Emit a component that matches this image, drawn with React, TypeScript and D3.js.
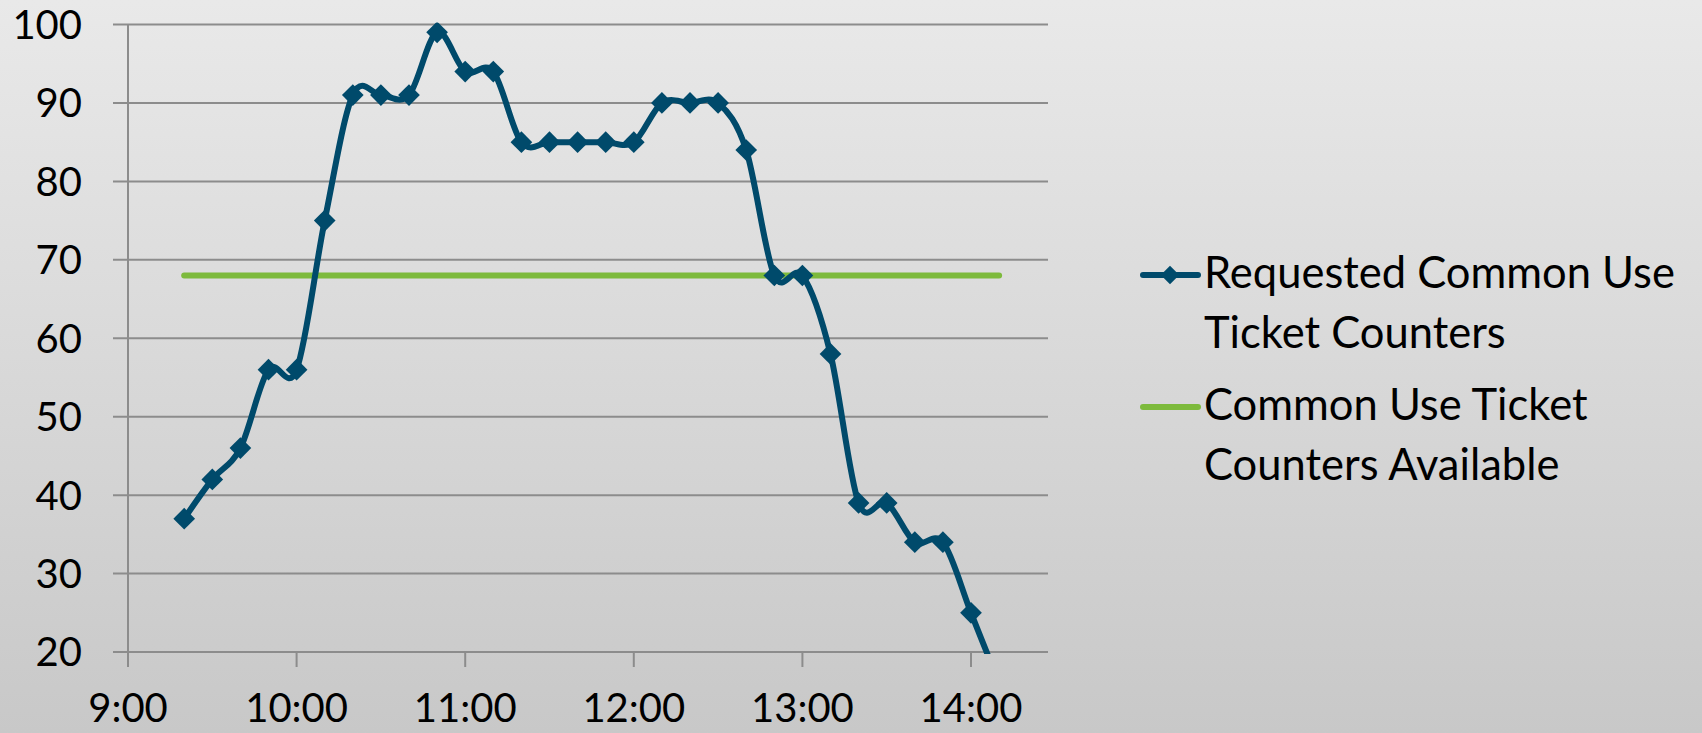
import React from 'react';
import * as d3 from 'd3';

const times = [
  '9:20', '9:30', '9:40', '9:50', '10:00', '10:10', '10:20', '10:30', '10:40', '10:50',
  '11:00', '11:10', '11:20', '11:30', '11:40', '11:50', '12:00', '12:10', '12:20', '12:30',
  '12:40', '12:50', '13:00', '13:10', '13:20', '13:30', '13:40', '13:50', '14:00', '14:10',
];
const requested = [
  37, 42, 46, 56, 56, 75, 91, 91, 91, 99,
  94, 94, 85, 85, 85, 85, 85, 90, 90, 90,
  84, 68, 68, 58, 39, 39, 34, 34, 25, 16,
];
const available = [
  68, 68, 68, 68, 68, 68, 68, 68, 68, 68,
  68, 68, 68, 68, 68, 68, 68, 68, 68, 68,
  68, 68, 68, 68, 68, 68, 68, 68, 68, 68,
];
const yTicks = [20, 30, 40, 50, 60, 70, 80, 90, 100];
const xTicks = ['9:00', '10:00', '11:00', '12:00', '13:00', '14:00'];
const legendLabels = [
  ['Requested Common Use', 'Ticket Counters'],
  ['Common Use Ticket', 'Counters Available'],
];

const W = 1702;
const H = 733;
const FONT = 'Lato, "Open Sans", sans-serif';
const BLUE = '#004a6b';
const GREEN = '#7dba3c';
const GRID = '#8c8c8c';

// "h:mm" -> minutes since midnight
const toMin = (s: string) => {
  const [h, m] = s.split(':').map(Number);
  return h * 60 + m;
};

export default function App() {
  const x = d3.scaleLinear().domain([540, 867.4]).range([128, 1048]);
  const y = d3.scaleLinear().domain([20, 100]).range([652, 24.5]);

  const reqPts = times.map((t, i) => [x(toMin(t)), y(requested[i])] as [number, number]);
  const availPts = times.map((t, i) => [x(toMin(t)), y(available[i])] as [number, number]);

  const smooth = d3.line().curve(d3.curveCardinal.tension(0));
  const straight = d3.line();

  const diamond = d3.symbol().type(d3.symbolDiamond2).size(300)();

  return (
    <svg width={W} height={H} style={{ position: 'absolute', left: 0, top: 0 }} fontFamily={FONT}>
      <defs>
        <linearGradient id="bg" x1="0" y1="0" x2="0" y2="1">
          <stop offset="0" stopColor="#e9e9e9" />
          <stop offset="1" stopColor="#c8c8c8" />
        </linearGradient>
        <clipPath id="plot">
          <rect x={128} y={y(100) - 2} width={920} height={y(20) - y(100) + 4} />
        </clipPath>
      </defs>
      <rect width={W} height={H} fill="url(#bg)" />

      {/* gridlines + y labels */}
      {yTicks.map((t) => (
        <g key={t}>
          <line x1={113} x2={1048} y1={y(t)} y2={y(t)} stroke={GRID} strokeWidth={2} />
          <text x={82} y={y(t)} dy="0.36em" textAnchor="end" fontSize={40} fill="#000">
            {t}
          </text>
        </g>
      ))}
      <line x1={128} x2={128} y1={y(100)} y2={y(20) + 15} stroke={GRID} strokeWidth={2} />

      {/* x ticks + labels */}
      {xTicks.map((t) => (
        <g key={t}>
          <line x1={x(toMin(t))} x2={x(toMin(t))} y1={y(20)} y2={y(20) + 15} stroke={GRID} strokeWidth={2} />
          <text x={x(toMin(t))} y={722} textAnchor="middle" fontSize={40} fill="#000">
            {t}
          </text>
        </g>
      ))}

      <g clipPath="url(#plot)">
        <path d={straight(availPts) || ''} fill="none" stroke={GREEN} strokeWidth={6} strokeLinecap="round" />
        <path d={smooth(reqPts) || ''} fill="none" stroke={BLUE} strokeWidth={6} strokeLinejoin="round" />
        {reqPts.map(([px, py], i) => (
          <path key={i} d={diamond || ''} transform={`translate(${px},${py})`} fill={BLUE} />
        ))}
      </g>

      {/* legend */}
      <g>
        <line x1={1143} x2={1198} y1={275} y2={275} stroke={BLUE} strokeWidth={6} strokeLinecap="round" />
        <path d={d3.symbol().type(d3.symbolDiamond2).size(220)() || ''} transform="translate(1170,275)" fill={BLUE} />
        <text x={1204} y={288} fontSize={43.5} fill="#000">
          <tspan x={1204}>{legendLabels[0][0]}</tspan>
          <tspan x={1204} y={348}>{legendLabels[0][1]}</tspan>
        </text>
        <line x1={1143} x2={1198} y1={407} y2={407} stroke={GREEN} strokeWidth={6} strokeLinecap="round" />
        <text x={1204} y={420} fontSize={43.5} fill="#000">
          <tspan x={1204}>{legendLabels[1][0]}</tspan>
          <tspan x={1204} y={480}>{legendLabels[1][1]}</tspan>
        </text>
      </g>
    </svg>
  );
}
